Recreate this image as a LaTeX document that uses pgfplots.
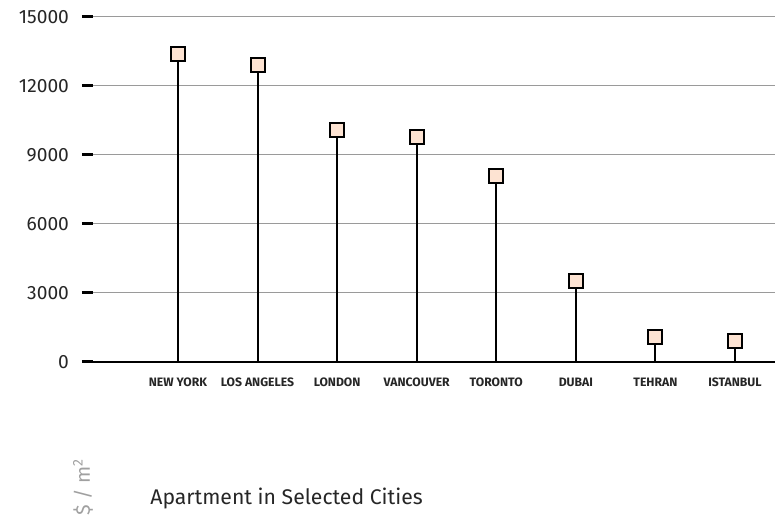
\documentclass[border=0pt]{standalone}
\usepackage{fontspec}
\setmainfont{Fira Sans}
\usepackage{pgfplots}
\pgfplotsset{compat=1.18}

\definecolor{gridgray}{HTML}{9A9A9A}
\definecolor{peach}{HTML}{FDE3D2}
\definecolor{labelgray}{HTML}{A0A0A0}

\begin{document}
\begin{tikzpicture}
	% page = 782x528 px, 1px = 0.5pt
	\useasboundingbox (-46.5pt,-83pt) rectangle (344.5pt,181pt);

	\begin{axis}[
		at				= {(0,0)},
		anchor			= south west,
		scale only axis,
		width			= 341pt,
		height			= 172.5pt,
		xmin			= -1.068,
		xmax			= 7.503,
		ymin			= 0,
		ymax			= 15000,
		clip			= false,
		axis lines*		= left,
		x axis line style	= {black, line width=0.6pt},
		y axis line style	= {draw=none},
		ymajorgrids,
		grid style		= {gridgray, line width=0.5pt},
		ytick			= {0,3000,...,15000},
		tick align		= outside,
		major tick length	= 5.5pt,
		ytick style		= {black, line width=1.5pt},
		xtick style		= {draw=none},
		scaled y ticks	= false,
		yticklabel style	= {font=\fontsize{9.6}{11}\selectfont, text=black!85, xshift=-3pt},
		/pgf/number format/assume math mode=true,
		/pgf/number format/1000 sep={},
		xtick			= data,
		xticklabels		= {NEW YORK, LOS ANGELES, LONDON, VANCOUVER, TORONTO, DUBAI, TEHRAN, ISTANBUL},
		xticklabel style	= {font=\fontsize{6.1}{7}\selectfont\bfseries, text=black!85, yshift=1pt},
	]

		\addplot[ycomb, black, line width=1pt,
			mark=square*, mark size=3.5pt,
			mark options={fill=peach, draw=black, line width=1pt}]
			coordinates {
				(0,13400) (1,12900) (2,10100) (3,9800)
				(4,8100) (5,3500) (6,1100) (7,900)
			};

		\node[anchor=west, inner sep=0pt, font=\fontsize{10.6}{12}\selectfont, text=black!85]
			at ([xshift=28.5pt,yshift=-68pt]rel axis cs:0,0) {Apartment in Selected Cities};
		\node[rotate=90, font=\fontsize{10}{12}\selectfont, text=labelgray]
			at ([xshift=-5pt,yshift=-62.5pt]rel axis cs:0,0) {\$ / m\textsuperscript{2}};

	\end{axis}
\end{tikzpicture}
\end{document}
